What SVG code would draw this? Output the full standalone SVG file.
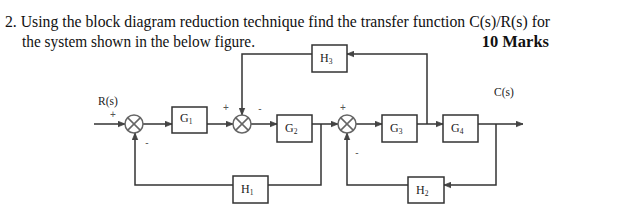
<svg xmlns="http://www.w3.org/2000/svg" width="636" height="220" viewBox="0 0 636 220">
<defs>
<marker id="arr" viewBox="0 0 10 10" refX="10" refY="5" markerWidth="7" markerHeight="7" markerUnits="userSpaceOnUse" orient="auto">
<path d="M0,1 L10,5 L0,9 Z" fill="#444" stroke="#444" stroke-width="1"/>
</marker>
</defs>
<style>
.t{font-family:"Liberation Serif","DejaVu Serif",serif;fill:#111}
.title{font-size:16.5px}
.bold{font-weight:bold}
.box{fill:#fff;stroke:#333;stroke-width:1.5}
.lbl{font-family:"Liberation Serif",serif;font-size:12px;fill:#222}
.sub{font-size:7.5px}
.io{font-family:"Liberation Serif",serif;font-size:11.5px;fill:#222}
.sum{fill:#fff;stroke:#666;stroke-width:1.5}
.w{fill:none;stroke:#333;stroke-width:1.5}
.sign{font-family:"Liberation Sans",sans-serif;font-size:10px;fill:#555}
</style>
<rect width="636" height="220" fill="#fff"/>
<g id="title">
<text class="t title" x="5" y="27" textLength="545" lengthAdjust="spacingAndGlyphs">2. Using the block diagram reduction technique find the transfer function C(s)/R(s) for</text>
<text class="t title" x="22" y="47" textLength="233" lengthAdjust="spacingAndGlyphs">the system shown in the below figure.</text>
<text class="t title bold" x="549" y="47" text-anchor="end">10 Marks</text>
</g>
<g id="connectors">
<line class="w" x1="94" y1="124" x2="125" y2="124" marker-end="url(#arr)"/>
<line class="w" x1="143" y1="124" x2="172" y2="124" marker-end="url(#arr)"/>
<line class="w" x1="207" y1="124" x2="233" y2="124" marker-end="url(#arr)"/>
<line class="w" x1="251" y1="124" x2="277" y2="124" marker-end="url(#arr)"/>
<line class="w" x1="312" y1="124" x2="338" y2="124" marker-end="url(#arr)"/>
<line class="w" x1="356" y1="124" x2="382" y2="124" marker-end="url(#arr)"/>
<line class="w" x1="417" y1="124" x2="443" y2="124" marker-end="url(#arr)"/>
<line class="w" x1="478" y1="124" x2="523" y2="124" marker-end="url(#arr)"/>
<polyline class="w" points="427,124 427,54 347,54" marker-end="url(#arr)"/>
<polyline class="w" points="312,54 242,54 242,115" marker-end="url(#arr)"/>
<polyline class="w" points="321,124 321,185 268,185"/>
<polyline class="w" points="233,185 135,185 135,133" marker-end="url(#arr)"/>
<polyline class="w" points="496,124 496,185 444,185" marker-end="url(#arr)"/>
<polyline class="w" points="408,185 347,185 347,133" marker-end="url(#arr)"/>
</g>
<g id="sum1">
<circle class="sum" cx="134" cy="124" r="9"/>
<path class="w" style="stroke:#666" d="M127.6,117.6 L140.4,130.4 M140.4,117.6 L127.6,130.4"/>
<text class="sign" x="113" y="118" text-anchor="middle">+</text>
<text class="sign" x="147" y="146" text-anchor="middle">-</text>
</g>
<g id="sum2">
<circle class="sum" cx="242" cy="124" r="9"/>
<path class="w" style="stroke:#666" d="M235.6,117.6 L248.4,130.4 M248.4,117.6 L235.6,130.4"/>
<text class="sign" x="226" y="111" text-anchor="middle">+</text>
<text class="sign" x="260" y="112" text-anchor="middle">-</text>
</g>
<g id="sum3">
<circle class="sum" cx="347" cy="124" r="9"/>
<path class="w" style="stroke:#666" d="M340.6,117.6 L353.4,130.4 M353.4,117.6 L340.6,130.4"/>
<text class="sign" x="343" y="111" text-anchor="middle">+</text>
<text class="sign" x="357" y="156" text-anchor="middle">-</text>
</g>
<g id="G1">
<rect class="box" x="172" y="107" width="35" height="26"/>
<text class="lbl" x="180" y="122">G<tspan class="sub" dy="2">1</tspan></text>
</g>
<g id="G2">
<rect class="box" x="277" y="115" width="35" height="27"/>
<text class="lbl" x="285" y="132">G<tspan class="sub" dy="2">2</tspan></text>
</g>
<g id="G3">
<rect class="box" x="382" y="115" width="35" height="27"/>
<text class="lbl" x="390" y="132">G<tspan class="sub" dy="2">3</tspan></text>
</g>
<g id="G4">
<rect class="box" x="443" y="115" width="35" height="27"/>
<text class="lbl" x="451" y="132">G<tspan class="sub" dy="2">4</tspan></text>
</g>
<g id="H3">
<rect class="box" x="312" y="45" width="35" height="27"/>
<text class="lbl" x="320" y="62">H<tspan class="sub" dy="2">3</tspan></text>
</g>
<g id="H1">
<rect class="box" x="233" y="176" width="35" height="27"/>
<text class="lbl" x="241" y="193">H<tspan class="sub" dy="2">1</tspan></text>
</g>
<g id="H2">
<rect class="box" x="408" y="177" width="36" height="26"/>
<text class="lbl" x="416" y="194">H<tspan class="sub" dy="2">2</tspan></text>
</g>
<g id="labels">
<text class="io" x="98" y="105">R(s)</text>
<text class="io" x="494" y="96">C(s)</text>
</g>
</svg>
